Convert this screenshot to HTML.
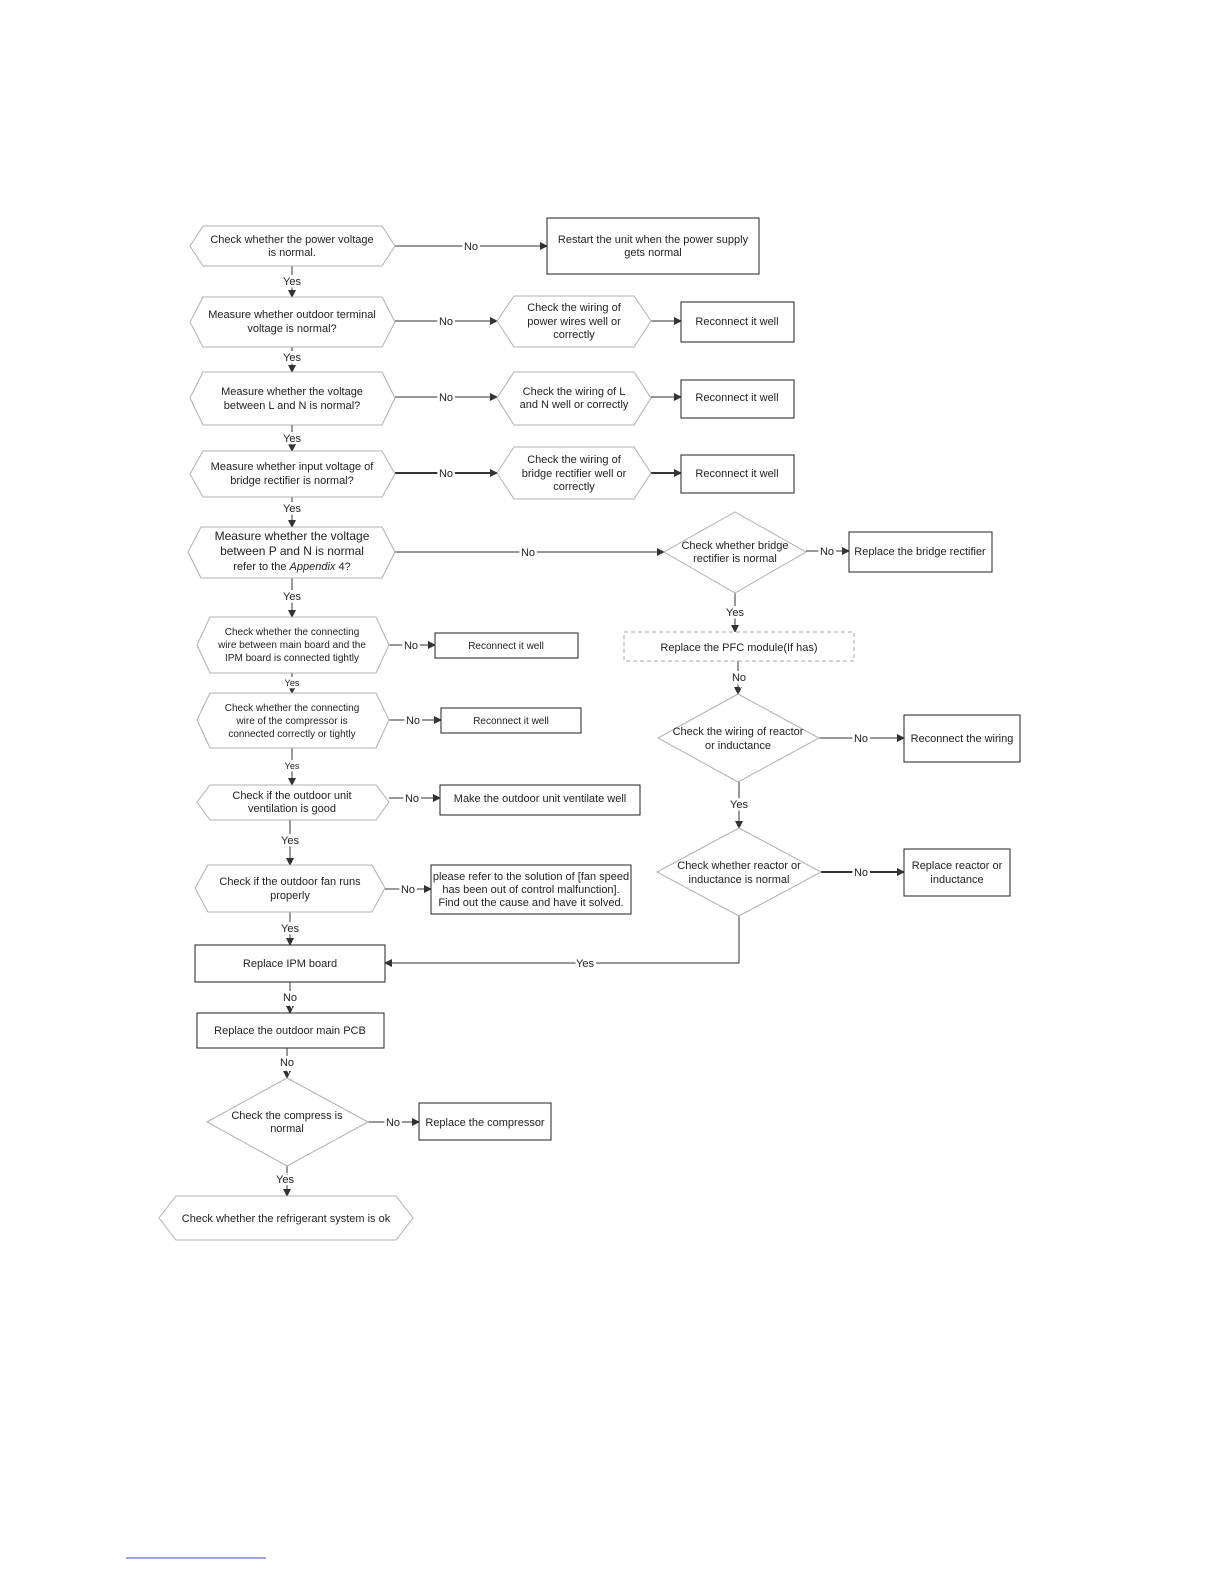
<!DOCTYPE html>
<html><head><meta charset="utf-8"><style>
body{margin:0;background:#fff}
svg text{font-family:"Liberation Sans",sans-serif;font-size:11px;fill:#222;text-anchor:middle}
.lb{paint-order:stroke;stroke:#fff;stroke-width:5px}
.h{fill:#fff;stroke:#b0b0b0;stroke-width:1}
.r{fill:#fff;stroke:#222;stroke-width:1}
.l{stroke:#333;stroke-width:1;fill:none}
</style></head><body>
<svg width="1224" height="1584" viewBox="0 0 1224 1584" xmlns="http://www.w3.org/2000/svg">
<defs><marker id="a" markerWidth="8" markerHeight="8" refX="7" refY="4" orient="auto" markerUnits="userSpaceOnUse"><path d="M0,0 L8,4 L0,8 z" fill="#333"/></marker></defs>

<!-- connectors left column -->
<g class="l" marker-end="url(#a)">
<line x1="292" y1="266" x2="292" y2="297"/>
<line x1="292" y1="347" x2="292" y2="372"/>
<line x1="292" y1="425" x2="292" y2="451"/>
<line x1="292" y1="497" x2="292" y2="527"/>
<line x1="292" y1="578" x2="292" y2="617"/>
<line x1="292" y1="673" x2="292" y2="693"/>
<line x1="292" y1="748" x2="292" y2="785"/>
<line x1="290" y1="820" x2="290" y2="865"/>
<line x1="290" y1="912" x2="290" y2="945"/>
<line x1="290" y1="982" x2="290" y2="1013"/>
<line x1="287" y1="1048" x2="287" y2="1078"/>
<line x1="287" y1="1166" x2="287" y2="1196"/>
<line x1="395" y1="246" x2="547" y2="246"/>
<line x1="395" y1="321" x2="497" y2="321"/>
<line x1="651" y1="321" x2="681" y2="321"/>
<line x1="395" y1="397" x2="497" y2="397"/>
<line x1="651" y1="397" x2="681" y2="397"/>
<line x1="395" y1="473" x2="497" y2="473" stroke-width="2"/>
<line x1="651" y1="473" x2="681" y2="473" stroke-width="2"/>
<line x1="395" y1="552" x2="664" y2="552"/>
<line x1="806" y1="551" x2="849" y2="551"/>
<line x1="735" y1="593" x2="735" y2="632"/>
<line x1="738" y1="661" x2="738" y2="694"/>
<line x1="819" y1="738" x2="904" y2="738"/>
<line x1="739" y1="782" x2="739" y2="828"/>
<line x1="821" y1="872" x2="904" y2="872" stroke-width="2"/>
<line x1="389" y1="645" x2="435" y2="645"/>
<line x1="389" y1="720" x2="441" y2="720"/>
<line x1="389" y1="798" x2="440" y2="798"/>
<line x1="385" y1="889" x2="431" y2="889"/>
<line x1="368" y1="1122" x2="419" y2="1122"/>
</g>
<polyline class="l" points="739,916 739,963 385,963" marker-end="url(#a)"/>

<!-- left hexes -->
<polygon class="h" points="190,246 203,226 382,226 395,246 382,266 203,266"/>
<polygon class="h" points="190,322 203,297 382,297 395,322 382,347 203,347"/>
<polygon class="h" points="190,398 203,372 382,372 395,398 382,425 203,425"/>
<polygon class="h" points="190,474 203,451 382,451 395,474 382,497 203,497"/>
<polygon class="h" points="188,552 201,527 382,527 395,552 382,578 201,578"/>
<polygon class="h" points="197,645 210,617 376,617 389,645 376,673 210,673"/>
<polygon class="h" points="197,720 210,693 376,693 389,720 376,748 210,748"/>
<polygon class="h" points="197,802 210,785 376,785 389,802 376,820 210,820"/>
<polygon class="h" points="195,888 208,865 372,865 385,888 372,912 208,912"/>
<rect class="r" x="195" y="945" width="190" height="37"/>
<rect class="r" x="197" y="1013" width="187" height="35"/>
<polygon class="h" points="287,1078 368,1122 287,1166 207,1122"/>
<polygon class="h" points="159,1218 176,1196 396,1196 413,1218 396,1240 176,1240"/>

<!-- right -->
<rect class="r" x="547" y="218" width="212" height="56"/>
<polygon class="h" points="497,321 514,296 634,296 651,321 634,347 514,347"/>
<rect class="r" x="681" y="302" width="113" height="40"/>
<polygon class="h" points="497,398 514,372 634,372 651,398 634,425 514,425"/>
<rect class="r" x="681" y="380" width="113" height="38"/>
<polygon class="h" points="497,473 514,447 634,447 651,473 634,499 514,499"/>
<rect class="r" x="681" y="455" width="113" height="38"/>
<polygon class="h" points="735,512 806,552 735,593 664,552"/>
<rect class="r" x="849" y="532" width="143" height="40"/>
<rect x="624" y="632" width="230" height="29" fill="#fff" stroke="#aaa" stroke-dasharray="4,3"/>
<polygon class="h" points="738,694 819,738 738,782 658,738"/>
<rect class="r" x="904" y="715" width="116" height="47"/>
<polygon class="h" points="739,828 821,872 739,916 657,872"/>
<rect class="r" x="904" y="849" width="106" height="47"/>
<rect class="r" x="435" y="633" width="143" height="25"/>
<rect class="r" x="441" y="708" width="140" height="25"/>
<rect class="r" x="440" y="785" width="200" height="30"/>
<rect class="r" x="431" y="865" width="200" height="49"/>
<rect class="r" x="419" y="1103" width="132" height="37"/>

<!-- labels -->
<g class="lb">
<text x="471" y="250">No</text><text x="446" y="325">No</text><text x="446" y="401">No</text><text x="446" y="477">No</text>
<text x="528" y="556">No</text><text x="827" y="555">No</text><text x="739" y="681">No</text><text x="861" y="742">No</text><text x="861" y="876">No</text>
<text x="411" y="649">No</text><text x="413" y="724">No</text><text x="412" y="802">No</text><text x="408" y="893">No</text><text x="393" y="1126">No</text>
<text x="292" y="285">Yes</text><text x="292" y="361">Yes</text><text x="292" y="442">Yes</text><text x="292" y="512">Yes</text><text x="292" y="600">Yes</text>
<text x="292" y="686" style="font-size:9px">Yes</text><text x="292" y="769" style="font-size:9px">Yes</text>
<text x="290" y="844">Yes</text><text x="290" y="932">Yes</text><text x="290" y="1001">No</text><text x="287" y="1066">No</text><text x="285" y="1183">Yes</text>
<text x="735" y="616">Yes</text><text x="739" y="808">Yes</text><text x="585" y="967">Yes</text>
</g>

<text x="292" y="243">Check whether the power voltage</text><text x="292" y="256">is normal.</text>
<text x="292" y="318">Measure whether outdoor terminal</text><text x="292" y="332">voltage is  normal?</text>
<text x="292" y="395">Measure whether the voltage</text><text x="292" y="409">between L and N is normal?</text>
<text x="292" y="470">Measure whether input voltage of</text><text x="292" y="484">bridge rectifier is normal?</text>
<text x="292" y="540" style="font-size:12px">Measure whether the voltage</text><text x="292" y="555" style="font-size:12px">between P and N is normal</text><text x="292" y="570">refer to the <tspan font-style="italic">Appendix</tspan> 4?</text>
<text x="292" y="635" style="font-size:10px">Check whether the connecting</text><text x="292" y="648" style="font-size:10px">wire between main board and the</text><text x="292" y="661" style="font-size:10px">IPM board is connected tightly</text>
<text x="292" y="711" style="font-size:10px">Check whether the connecting</text><text x="292" y="724" style="font-size:10px">wire of the compressor is</text><text x="292" y="737" style="font-size:10px">connected correctly or tightly</text>
<text x="292" y="799">Check if the outdoor unit</text><text x="292" y="812">ventilation is good</text>
<text x="290" y="885">Check if the outdoor fan runs</text><text x="290" y="899">properly</text>
<text x="290" y="967">Replace IPM  board</text>
<text x="290" y="1034">Replace the outdoor main PCB</text>
<text x="287" y="1119">Check the compress is</text><text x="287" y="1132">normal</text>
<text x="286" y="1222">Check whether the refrigerant system is ok</text>
<text x="653" y="243">Restart the unit when the power supply</text><text x="653" y="256">gets normal</text>
<text x="574" y="311">Check the wiring of</text><text x="574" y="325">power wires well or</text><text x="574" y="338">correctly</text>
<text x="737" y="325">Reconnect it well</text>
<text x="574" y="395">Check the wiring of L</text><text x="574" y="408">and N well or correctly</text>
<text x="737" y="401">Reconnect it well</text>
<text x="574" y="463">Check the wiring of</text><text x="574" y="477">bridge rectifier well or</text><text x="574" y="490">correctly</text>
<text x="737" y="477">Reconnect it well</text>
<text x="735" y="549">Check whether bridge</text><text x="735" y="562">rectifier is normal</text>
<text x="920" y="555">Replace the bridge rectifier</text>
<text x="739" y="651">Replace the PFC module(If has)</text>
<text x="738" y="735">Check the wiring of reactor</text><text x="738" y="749">or inductance</text>
<text x="962" y="742">Reconnect the wiring</text>
<text x="739" y="869">Check whether reactor or</text><text x="739" y="883">inductance is normal</text>
<text x="957" y="869">Replace reactor or</text><text x="957" y="883">inductance</text>
<text x="506" y="649" style="font-size:10px">Reconnect it well</text>
<text x="511" y="724" style="font-size:10px">Reconnect it well</text>
<text x="540" y="802">Make the outdoor unit ventilate well</text>
<text x="531" y="880">please refer to the solution of [fan speed</text><text x="531" y="893">has been out of control malfunction].</text><text x="531" y="906">Find out the cause and have it solved.</text>
<text x="485" y="1126">Replace the compressor</text>
<line x1="126" y1="1558" x2="266" y2="1558" stroke="#3050c0" stroke-width="1"/>
</svg>
</body></html>
